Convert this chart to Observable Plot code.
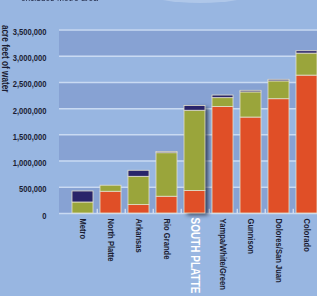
<!DOCTYPE html>
<html>
<head>
<meta charset="utf-8">
<script src="https://cdn.jsdelivr.net/npm/d3@7"></script>
<script src="https://cdn.jsdelivr.net/npm/@observablehq/plot@0.6"></script>
<style>
  html, body { margin: 0; padding: 0; }
  body { background: #98b6e1; width: 317px; height: 296px; overflow: hidden; position: relative;
         font-family: "Liberation Sans", Arial, sans-serif; }
  #title { position: absolute; top: -8px; left: 21px; font-size: 10px; color: #1c2340; white-space: nowrap;
           transform-origin: 0 0; transform: scaleX(0.85); }
  #glow { position: absolute; left: 145px; top: -20px; width: 110px; height: 23px; border-radius: 50%; background: #afc7e9; }
  #ylabel { position: absolute; left: 11px; top: 25px; font-size: 10px; font-weight: bold;
            line-height: 11px; color: #1b1d33; white-space: nowrap;
            transform-origin: 0 0; transform: rotate(90deg) scaleX(0.82); }
  #chart { position: absolute; left: 0; top: 0; }
</style>
</head>
<body>
<div id="glow"></div>
<div id="title">excludes Metro area</div>
<div id="ylabel">acre feet of water</div>
<div id="chart"></div>
<script>
const categories = ["Metro", "North Platte", "Arkansas", "Rio Grande", "SOUTH PLATTE", "Yampa/White/Green", "Gunnison", "Dolores/San Juan", "Colorado"];
const seriesNames = ["orange", "green", "navy"];
const orangeValues = [0, 415000, 160000, 320000, 430000, 2030000, 1830000, 2180000, 2630000];
const greenValues = [210000, 115000, 540000, 830000, 1530000, 170000, 480000, 340000, 420000];
const navyValues = [210000, 0, 115000, 25000, 90000, 50000, 30000, 30000, 45000];
const yTicks = [0, 500000, 1000000, 1500000, 2000000, 2500000, 3000000, 3500000];
const highlight = "SOUTH PLATTE";

const colors = { orange: "#e04f27", green: "#9aa53b", navy: "#29246a" };
const seriesValues = { orange: orangeValues, green: greenValues, navy: navyValues };

const rows = [];
categories.forEach((c, i) => {
  seriesNames.forEach(s => rows.push({ category: c, series: s, value: seriesValues[s][i] }));
});
const totals = categories.map((c, i) => ({ category: c, total: orangeValues[i] + greenValues[i] + navyValues[i] }));

const bands = [];
for (let i = 0; i < yTicks.length - 1; i += 2) bands.push({ y1: yTicks[i], y2: yTicks[i + 1] });

const chart = Plot.plot({
  width: 317,
  height: 296,
  marginLeft: 59,
  marginRight: 0,
  marginTop: 29.5,
  marginBottom: 83,
  style: { background: "transparent", color: "#1b1d33", fontFamily: "'Liberation Sans', Arial, sans-serif", overflow: "hidden" },
  x: { domain: categories, range: [70, 318], paddingInner: 0.26, paddingOuter: 0, axis: null },
  y: { domain: [0, 3500000], axis: null },
  marks: [
    Plot.rectY(bands, { y1: "y1", y2: "y2", fill: "#87a2d3" }),
    Plot.ruleY(yTicks, { stroke: "#c9daf2", strokeWidth: 1.5 }),
    Plot.axisY({ ticks: yTicks, tickFormat: d3.format(","), tickSize: 0, tickPadding: 13, fontSize: 9.5, fontWeight: "bold", dy: 2, label: null }),
    Plot.ruleX(categories.slice(0, -1), { x: d => d, y1: 0, y2: 80000, dx: 14.2, stroke: "#eef3fb", strokeWidth: 1 }),
    Plot.rectY(totals.filter(d => d.category === highlight), { x: "category", y: "total", fill: "#141a2c", fillOpacity: 0.75, dx: 3, dy: 2, imageFilter: "blur(2px)" }),
    Plot.rectY(rows, Plot.stackY({ x: "category", y: "value", z: "series", fill: d => colors[d.series], stroke: "#e4e0cc", strokeWidth: 0.8, order: null })),
    Plot.text(categories.filter(c => c !== highlight), { x: d => d, y: () => 0, text: d => d, rotate: 90, textAnchor: "start", dy: 5, fontSize: 9.5, fontWeight: "bold", fill: "#1b1d33" }),
    Plot.text([highlight], { x: d => d, y: () => 0, text: d => d, rotate: 90, textAnchor: "start", dy: 4, fontSize: 12.5, fontWeight: "bold", fill: "#ffffff" })
  ]
});
document.getElementById("chart").appendChild(chart);

// emulate the condensed typeface by compressing each label along its direction
chart.querySelectorAll("text").forEach(t => {
  const len = t.getComputedTextLength();
  if (len > 0) {
    t.setAttribute("textLength", (len * 0.8).toFixed(2));
    t.setAttribute("lengthAdjust", "spacingAndGlyphs");
  }
});
</script>
</body>
</html>
